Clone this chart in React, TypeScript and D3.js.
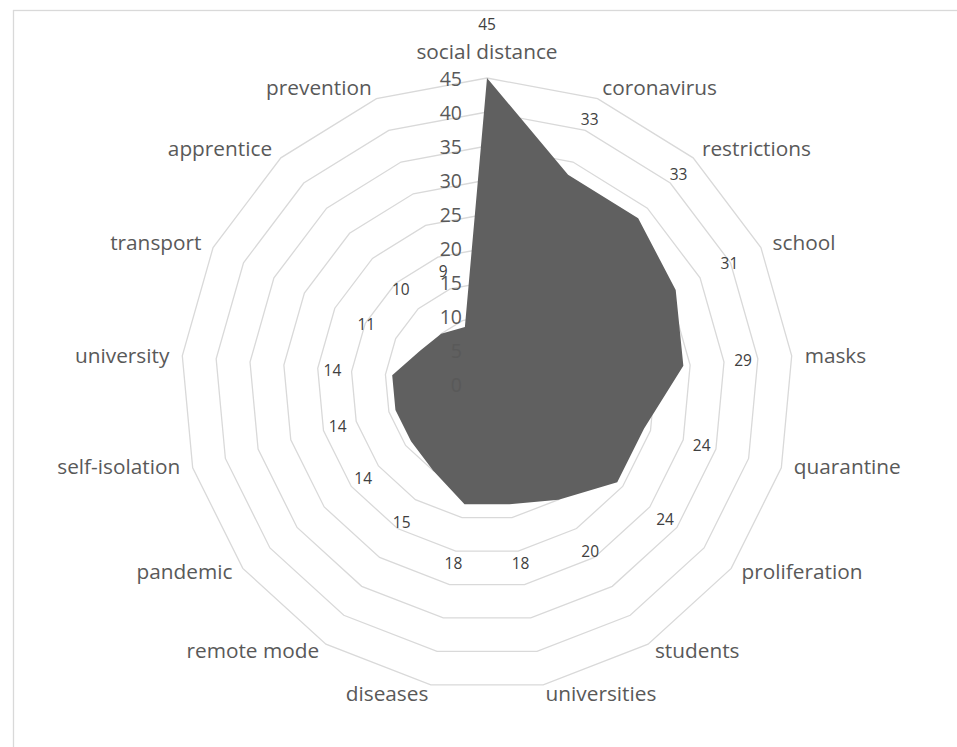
import React from "react";
import * as d3 from "d3";

// Keyword frequencies, listed clockwise from the top
const categories: string[] = [
  "social distance",
  "coronavirus",
  "restrictions",
  "school",
  "masks",
  "quarantine",
  "proliferation",
  "students",
  "universities",
  "diseases",
  "remote mode",
  "pandemic",
  "self-isolation",
  "university",
  "transport",
  "apprentice",
  "prevention",
];

const counts: number[] = [45, 33, 33, 31, 29, 24, 24, 20, 18, 18, 15, 14, 14, 14, 11, 10, 9];

const radialTicks: number[] = [0, 5, 10, 15, 20, 25, 30, 35, 40, 45];

const WIDTH = 957;
const HEIGHT = 747;
const CX = 487;
const CY = 384;
const R = 306;
const FONT = "'Open Sans', 'Noto Sans', 'DejaVu Sans', sans-serif";

export default function App() {
  const n = categories.length;
  const angle = d3
    .scaleLinear()
    .domain([0, n])
    .range([0, 2 * Math.PI]);
  const radius = d3.scaleLinear().domain([0, 45]).range([0, R]);

  const polar = (a: number, r: number): [number, number] => [
    CX + r * Math.sin(a),
    CY - r * Math.cos(a),
  ];

  const ring = d3
    .lineRadial<number>()
    .angle((_, i) => angle(i))
    .curve(d3.curveLinearClosed);

  const gridPaths = radialTicks
    .filter((t) => t > 0)
    .map((t) => ({
      t,
      d: ring.radius(() => radius(t))(categories.map(() => t)) as string,
    }));

  const area = d3
    .lineRadial<number>()
    .angle((_, i) => angle(i))
    .radius((v) => radius(v))
    .curve(d3.curveLinearClosed)(counts) as string;

  return (
    <svg
      width={WIDTH}
      height={HEIGHT}
      style={{ position: "absolute", left: 0, top: 0, background: "#fff" }}
    >
      {/* chart frame */}
      <rect
        x={13.5}
        y={10.5}
        width={WIDTH + 20}
        height={HEIGHT + 20}
        fill="#fff"
        stroke="#d9d9d9"
        strokeWidth={1.3}
      />

      {/* concentric grid */}
      <g transform={`translate(${CX},${CY})`}>
        {gridPaths.map((g) => (
          <path key={g.t} d={g.d} fill="none" stroke="#d9d9d9" strokeWidth={1.3} />
        ))}
        <path d={area} fill="#606060" stroke="none" />
      </g>

      {/* radial axis tick labels */}
      {radialTicks.map((t) => (
        <text
          key={`tick-${t}`}
          x={CX - 25}
          y={CY - radius(t)}
          textAnchor="end"
          dominantBaseline="central"
          fontFamily={FONT}
          fontSize={19.5}
          fill="#595959"
        >
          {t}
        </text>
      ))}

      {/* category labels */}
      {categories.map((c, i) => {
        const a = angle(i);
        const s = Math.sin(a);
        const co = Math.cos(a);
        const [x, y] = polar(a, R + 13);
        const anchor = s > 0.1 ? "start" : s < -0.1 ? "end" : "middle";
        const dy = co > 0.95 ? -14 : co < -0.1 ? -5 : 0;
        return (
          <text
            key={`cat-${c}`}
            x={x}
            y={y + dy}
            textAnchor={anchor}
            dominantBaseline="central"
            fontFamily={FONT}
            fontSize={20.8}
            fill="#595959"
          >
            {c}
          </text>
        );
      })}

      {/* value labels */}
      {counts.map((v, i) => {
        const a = angle(i);
        const [x, y] = polar(a, radius(v) + 60);
        return (
          <text
            key={`val-${i}`}
            x={x}
            y={Math.max(y, 24)}
            textAnchor="middle"
            dominantBaseline="central"
            fontFamily={FONT}
            fontSize={15.5}
            fill="#404040"
          >
            {v}
          </text>
        );
      })}
    </svg>
  );
}
